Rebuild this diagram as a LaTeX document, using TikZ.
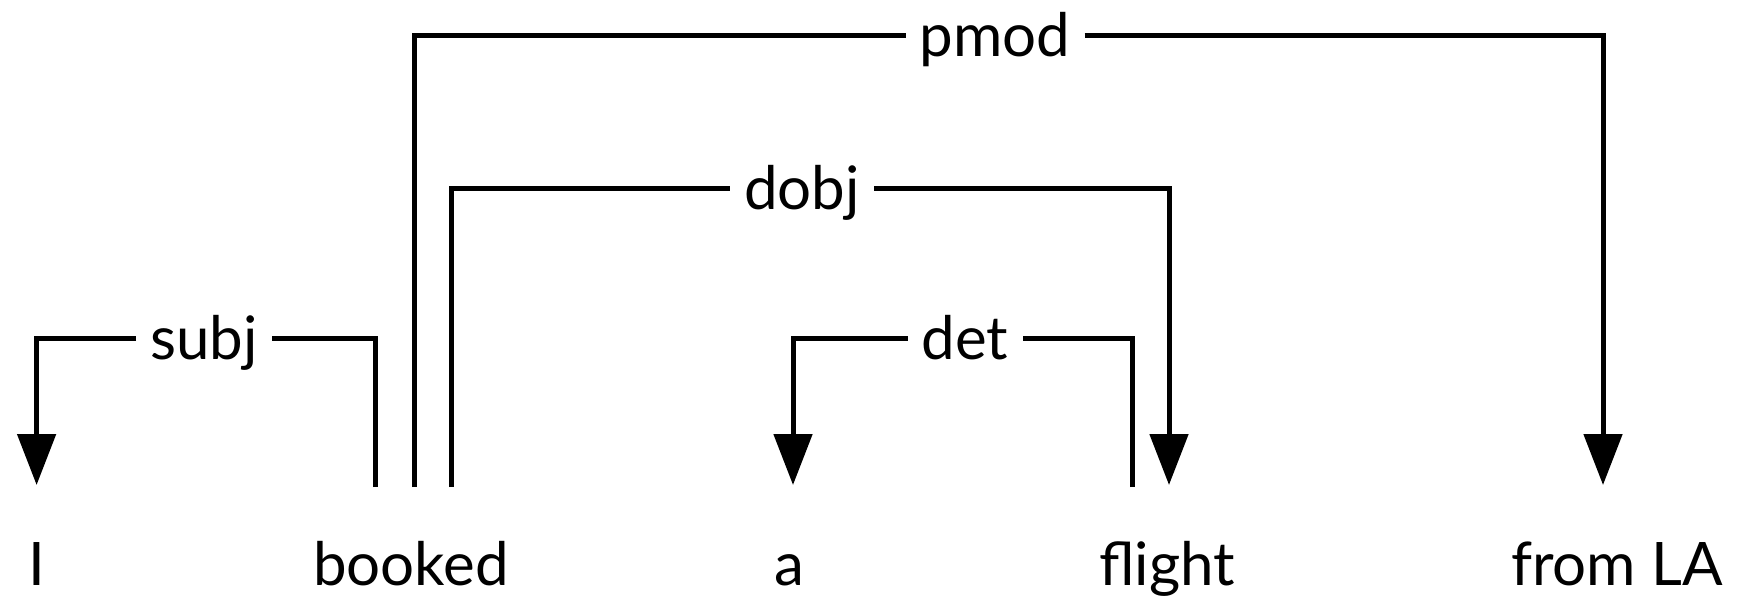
\documentclass[tikz,border=0pt]{standalone}
\usepackage{fontspec}
\setmainfont{Lato}
\usetikzlibrary{arrows.meta}
\begin{document}
\begin{tikzpicture}[x=1pt,y=-1pt,
  word/.style={anchor=base, inner sep=0pt, font=\fontsize{60}{72}\selectfont},
  lbl/.style={anchor=base, inner xsep=14pt, inner ysep=0pt, font=\fontsize{60}{72}\selectfont},
  dep/.style={line width=5pt, line join=miter},
  arr/.style={dep, -{Triangle[width=38pt,length=51pt]}}]
\useasboundingbox (0,0) rectangle (1737,597);
% words
\node[word] (w1) at (36.6,585) {I};
\node[word] (w2) at (411,585) {booked};
\node[word] (w3) at (789,585) {a};
\node[word] (w4) at (1167,585) {flight};
\node[word] (w5) at (1617,585) {from LA};
% connector ends
\coordinate (s1) at (375.5,487);
\coordinate (s2) at (414,487);
\coordinate (s3) at (451,487);
\coordinate (s4) at (1132,487);
\coordinate (t1) at (36.6,485);
\coordinate (t3) at (793,485);
\coordinate (t4) at (1169,485);
\coordinate (t5) at (1603,485);
% labels
\node[lbl] (Lpmod) at (995,56.5) {pmod};
\node[lbl] (Ldobj) at (802,209) {dobj};
\node[lbl] (Lsubj) at (204,359) {subj};
\node[lbl] (Ldet) at (965,359) {det};
% arcs
\draw[dep] (s1) |- ([yshift=21pt]Lsubj.base east);
\draw[arr] ([yshift=21pt]Lsubj.base west) -| (t1);
\draw[dep] (s2) |- ([yshift=21pt]Lpmod.base west);
\draw[arr] ([yshift=21pt]Lpmod.base east) -| (t5);
\draw[dep] (s3) |- ([yshift=21pt]Ldobj.base west);
\draw[arr] ([yshift=21pt]Ldobj.base east) -| (t4);
\draw[dep] (s4) |- ([yshift=21pt]Ldet.base east);
\draw[arr] ([yshift=21pt]Ldet.base west) -| (t3);
\end{tikzpicture}
\end{document}
